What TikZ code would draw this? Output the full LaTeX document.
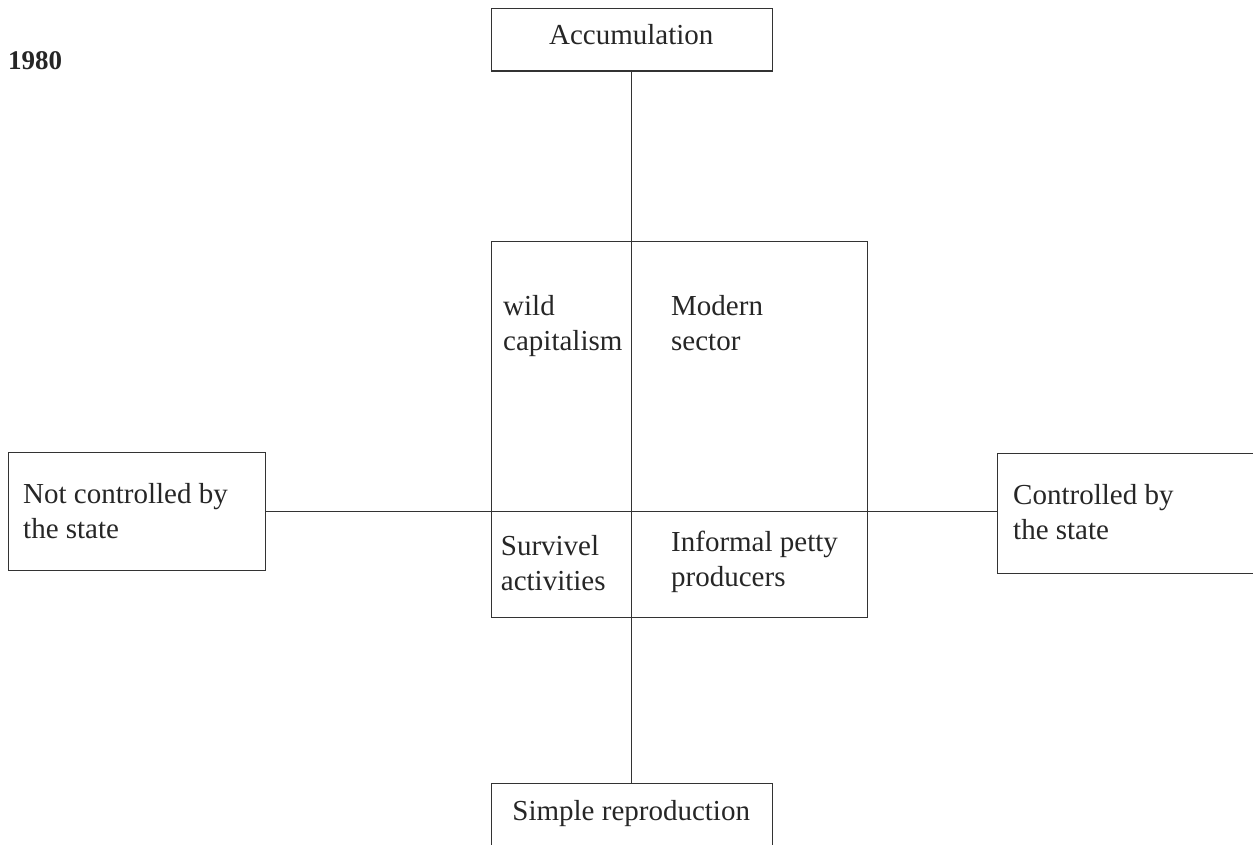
\documentclass[tikz,border=0pt]{standalone}
\usepackage{fontspec}
\setmainfont{Liberation Serif}
\begin{document}
\begin{tikzpicture}[x=1pt,y=-1pt,
  every node/.style={font=\fontsize{29}{35}\selectfont, text=black!85},
  box/.style={draw=black!80, line width=1.1pt, inner sep=0pt, anchor=north west},
  lbl/.style={anchor=base west, align=left, inner sep=0pt},
  conn/.style={draw=black!80, line width=1.1pt}]
\useasboundingbox (0,0) rectangle (1253,845);
\clip (0,0) rectangle (1253,845);
% boxes
\node[box, minimum width=281pt, minimum height=62.5pt] (acc) at (490.7,8) {};
\node[box, minimum width=281pt, minimum height=90pt] (simp) at (490.7,782.7) {};
\node[box, minimum width=257.3pt, minimum height=117.7pt] (notc) at (7.7,452.3) {};
\node[box, minimum width=290pt, minimum height=120pt] (ctrl) at (996.7,453.3) {};
\node[box, minimum width=376.6pt, minimum height=376.3pt] (sq) at (490.7,241) {};
% connectors
\draw[conn] (acc.south) -- (simp.north);
\draw[conn] (notc.east) -- (notc.east -| ctrl.west);
% texts (base anchor = baseline of last line)
\node[anchor=base west, inner sep=0pt, font=\fontsize{27}{32}\selectfont\bfseries] (yr) at (8,70) {1980};
\node[anchor=base, inner sep=0pt] (acct) at (631.2,45) {Accumulation};
\node[anchor=base, inner sep=0pt] (simpt) at (631.2,820) {Simple reproduction};
\node[lbl] (notct) at (23,538) {Not controlled by\\the state};
\node[lbl] (ctrlt) at (1013,539) {Controlled by\\the state};
\node[lbl] (wild) at (503,350) {wild\\capitalism};
\node[lbl] (mod) at (671,350) {Modern\\sector};
\node[lbl] (surv) at (500.7,590) {Survivel\\activities};
\node[lbl] (inf) at (671,586.7) {Informal petty\\producers};
\end{tikzpicture}
\end{document}
